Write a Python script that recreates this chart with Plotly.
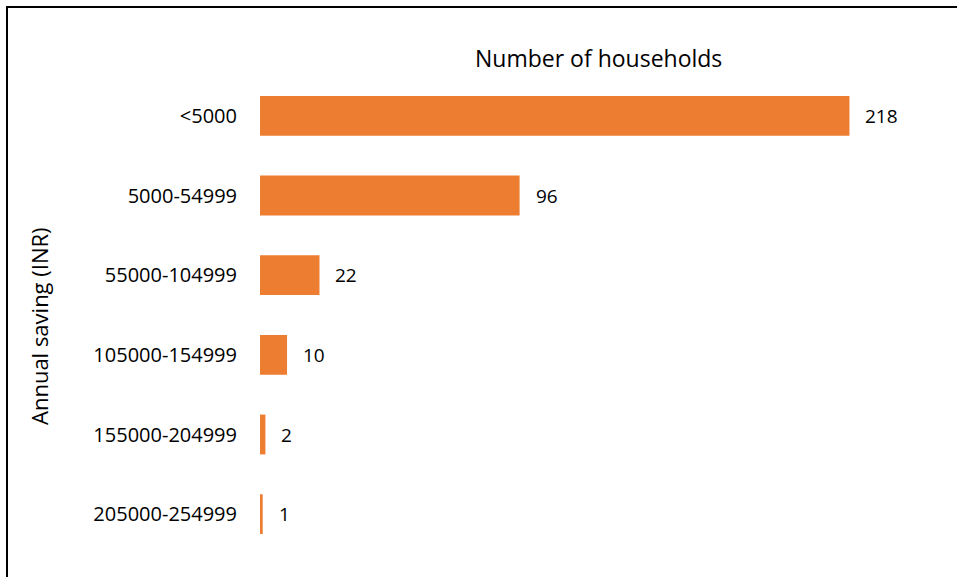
import plotly.graph_objects as go

# Annual saving bands and household counts
categories = ["<5000", "5000-54999", "55000-104999", "105000-154999",
              "155000-204999", "205000-254999"]
households = [218, 96, 22, 10, 2, 1]

W, H = 957, 577
L, R, T, B = 260, 21, 76, 23
PW, PH = W - L - R, H - T - B

def px_x(p):
    return (p - L) / PW

def px_y(p):
    return (H - B - p) / PH

FONT = "Open Sans"
ORANGE = "#ED7D31"

fig = go.Figure(go.Bar(
    x=households,
    y=categories,
    orientation="h",
    marker=dict(color=ORANGE, line=dict(width=0)),
    width=0.5,
    hoverinfo="skip",
))

# value labels beside each bar
for c, v in zip(categories, households):
    fig.add_annotation(x=v, y=c, text=str(v), showarrow=False,
                       xanchor="left", xshift=14,
                       font=dict(family=FONT, size=19, color="#000000"))

# chart title
fig.add_annotation(x=px_x(598), y=px_y(58), xref="paper", yref="paper",
                   text="Number of households", showarrow=False,
                   xanchor="center", yanchor="middle",
                   font=dict(family=FONT, size=23, color="#000000"))

# vertical axis title
fig.add_annotation(x=px_x(39), y=px_y(326), xref="paper", yref="paper",
                   text="Annual saving (INR)", showarrow=False, textangle=-90,
                   xanchor="center", yanchor="middle",
                   font=dict(family=FONT, size=22, color="#000000"))

# frame lines along top and left
fig.add_shape(type="line", xref="paper", yref="paper",
              x0=px_x(7), x1=px_x(W + 5), y0=px_y(7), y1=px_y(7),
              line=dict(color="#000000", width=2))
fig.add_shape(type="line", xref="paper", yref="paper",
              x0=px_x(7), x1=px_x(7), y0=px_y(6), y1=px_y(H + 5),
              line=dict(color="#000000", width=2))

fig.update_layout(
    width=W, height=H,
    margin=dict(l=L, r=R, t=T, b=B, pad=0),
    paper_bgcolor="white", plot_bgcolor="white",
    showlegend=False,
    xaxis=dict(range=[0, 250], visible=False, fixedrange=True),
    yaxis=dict(categoryorder="array", categoryarray=categories,
               autorange="reversed", showgrid=False, zeroline=False,
               showline=False, ticks="", ticklabelstandoff=22,
               tickfont=dict(family=FONT, size=20, color="#000000")),
)

fig.write_html("out.html")
